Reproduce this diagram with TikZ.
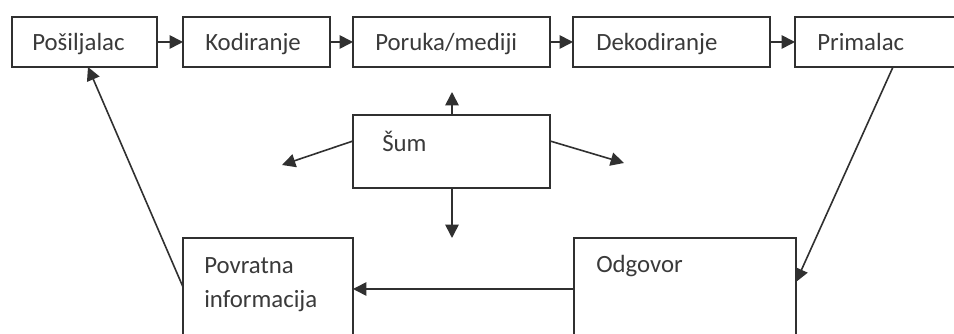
\documentclass[tikz,border=0pt]{standalone}
\usepackage{fontspec}
\setmainfont{Carlito}
\usetikzlibrary{arrows.meta}
\definecolor{ln}{HTML}{303030}
\definecolor{tx}{HTML}{3a3a3a}
\def\u{0.75pt}
\begin{document}
\begin{tikzpicture}[x=0.75pt,y=-0.75pt,
  box/.style={draw=ln,line width=1.2pt,fill=white,rectangle,inner sep=0pt,outer sep=0pt,anchor=north west},
  txt/.style={text=tx,font=\fontsize{18.6}{25.5}\selectfont,inner sep=0pt,anchor=base west,align=left},
  arr/.style={draw=ln,line width=1.2pt,-{Triangle[length=10pt,width=10pt]}}]
\clip (0,0) rectangle (954,334);
\fill[white] (0,0) rectangle (954,334);
% top row
\node[box,minimum width=145*\u,minimum height=50*\u] (pos) at (12,17) {};
\node[box,minimum width=147*\u,minimum height=50*\u] (kod) at (183,17) {};
\node[box,minimum width=197*\u,minimum height=50*\u] (por) at (353,17) {};
\node[box,minimum width=197*\u,minimum height=50*\u] (dek) at (573,17) {};
\node[box,minimum width=170*\u,minimum height=50*\u] (pri) at (795,17) {};
\node[txt] at (32,51) {Pošiljalac};
\node[txt] at (205,51) {Kodiranje};
\node[txt] at (375,51) {Poruka/mediji};
\node[txt] at (596,51) {Dekodiranje};
\node[txt] at (817,51) {Primalac};
% noise
\node[box,minimum width=197*\u,minimum height=73*\u] (sum) at (353,115) {};
\node[txt] at (382,152) {Šum};
% bottom
\node[box,minimum width=170*\u,minimum height=120*\u] (pov) at (183,238) {};
\node[box,minimum width=222*\u,minimum height=120*\u] (odg) at (574,238) {};
\node[txt] at (204,308) {Povratna\\informacija};
\node[txt] at (596,273) {Odgovor};
% coordinates
\coordinate (nu) at (452,92);
\coordinate (nd) at (452,238);
\coordinate (nl) at (282,165);
\coordinate (nr) at (624,163);
% arrows top
\draw[arr] (pos.east) -- (kod.west);
\draw[arr] (kod.east) -- (por.west);
\draw[arr] (por.east) -- (dek.west);
\draw[arr] (dek.east) -- (pri.west);
% noise arrows
\draw[arr] (sum.north -| nu) -- (nu);
\draw[arr] (sum.south -| nd) -- (nd);
\draw[arr] ([yshift=-26*\u]sum.north west) -- (nl);
\draw[arr] ([yshift=-26*\u]sum.north east) -- (nr);
% feedback loop
\draw[arr] ([xshift=-72*\u]pri.south east) -- ([yshift=-44*\u]odg.north east);
\draw[arr] ([yshift=-51*\u]odg.north west) -- ([yshift=-51*\u]pov.north east);
\draw[arr] ([yshift=-49*\u]pov.north west) -- ([xshift=76*\u]pos.south west);
\end{tikzpicture}
\end{document}
